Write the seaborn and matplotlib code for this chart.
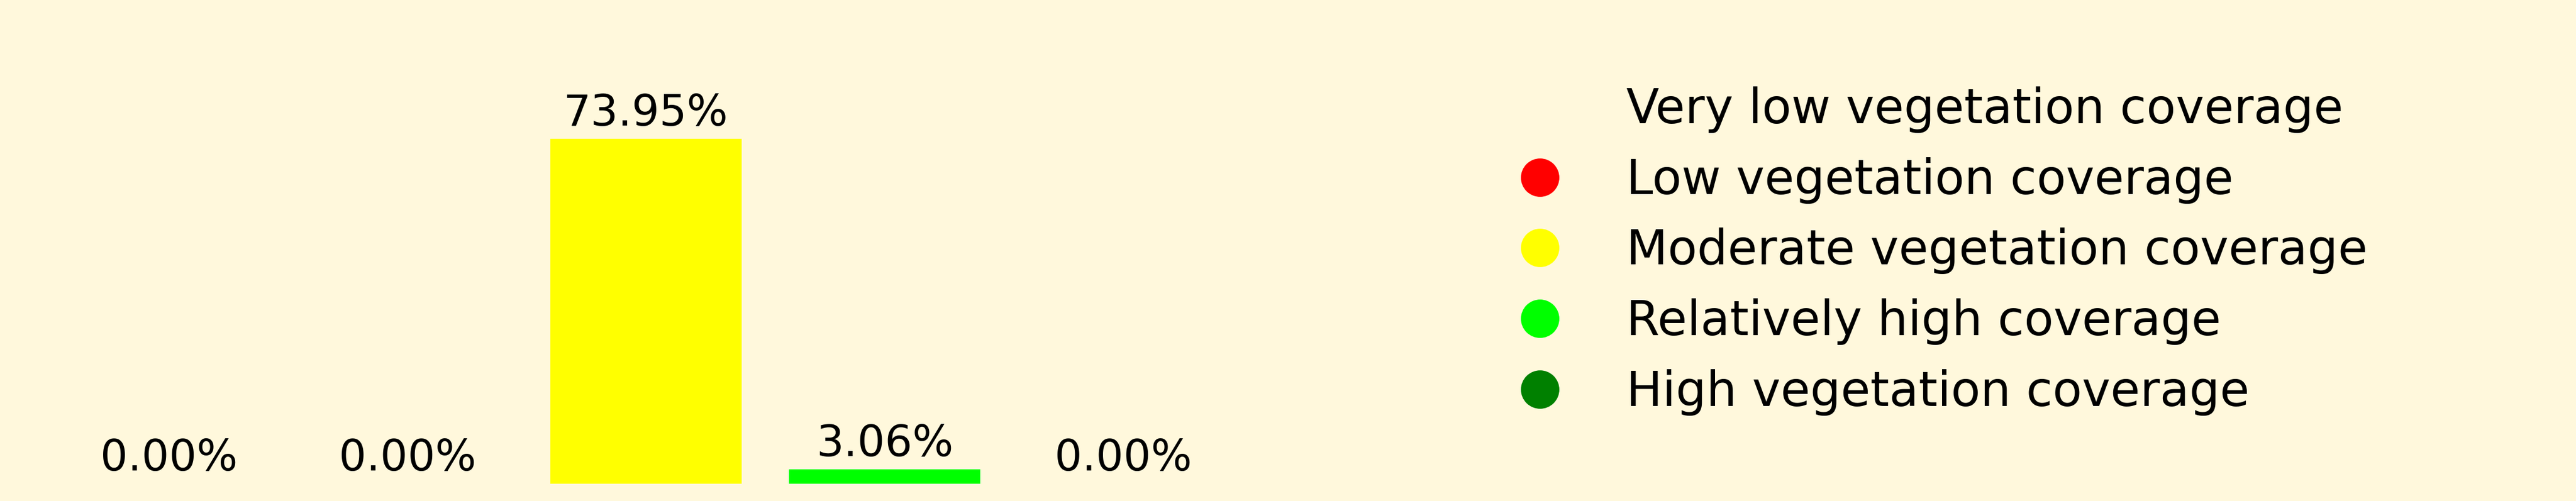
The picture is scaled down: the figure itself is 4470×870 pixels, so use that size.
import matplotlib
matplotlib.use("Agg")
import matplotlib.pyplot as plt
from matplotlib.lines import Line2D
import seaborn as sns
import pandas as pd

categories = ["Very low vegetation coverage", "Low vegetation coverage",
              "Moderate vegetation coverage", "Relatively high coverage",
              "High vegetation coverage"]
values = [0.0, 0.0, 73.95, 3.06, 0.0]
colors = ["#FFF8DC", "#FF0000", "#FFFF00", "#00FF00", "#008000"]
bg = "#FFF8DC"

sns.set_theme(style="white")
plt.rcParams['font.family'] = ['DejaVu Sans']
plt.rcParams['text.color'] = 'black'

df = pd.DataFrame({"category": categories, "value": values})

fig = plt.figure(figsize=(14.9, 2.9), dpi=300, facecolor=bg)
ax = fig.add_axes([86/4470, 30/870, 2070/4470, 629/870])
ax.set_facecolor(bg)
sns.barplot(data=df, x="category", y="value", hue="category",
            palette=dict(zip(categories, colors)), order=categories,
            hue_order=categories, dodge=False, legend=False, width=0.8,
            saturation=1, linewidth=0, ax=ax)
ax.set_ylim(0, max(values) * 1.05)
for cont in ax.containers:
    ax.bar_label(cont, labels=[f"{v:.2f}%" for v in cont.datavalues],
                 padding=1.7, fontsize=18, color="black")
ax.set_axis_off()

handles = [Line2D([0], [0], marker='o', linestyle='None', markersize=15,
                  markerfacecolor=c, markeredgecolor=c) for c in colors]
fig.legend(handles, categories, loc="center left",
           bbox_to_anchor=(2555/4470, 0.499), bbox_transform=fig.transFigure,
           frameon=False, fontsize=20, labelspacing=0.5, borderaxespad=0,
           handlelength=2.0, handletextpad=0.8, labelcolor="black")

fig.savefig("out.png", dpi=300, facecolor=bg)
